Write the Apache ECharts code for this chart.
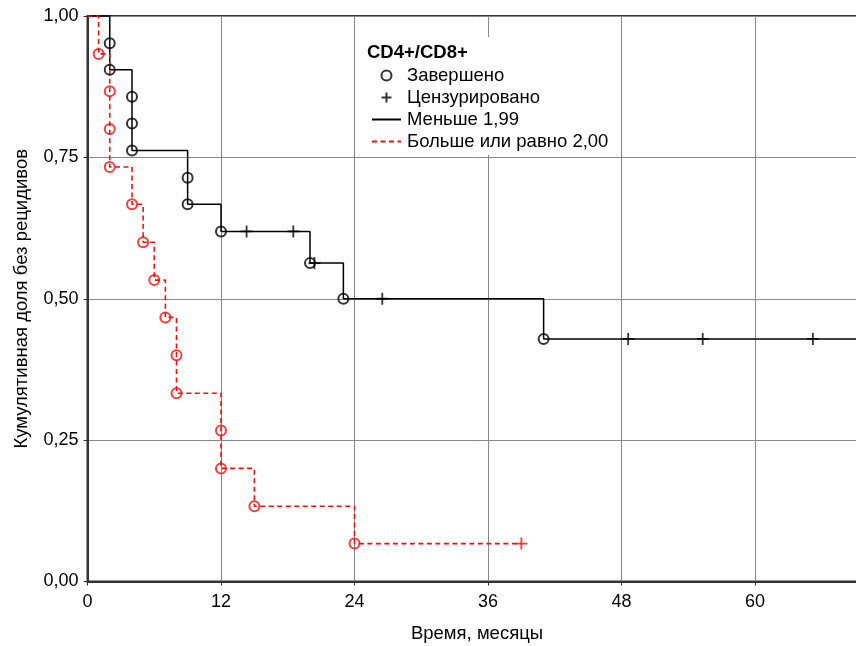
<!DOCTYPE html>
<html><head><meta charset="utf-8">
<script src="https://cdn.jsdelivr.net/npm/echarts@6/dist/echarts.min.js"></script>
<style>html,body{margin:0;padding:0;background:#fff}#c{width:856px;height:646px}</style>
</head><body><div id="c"></div>
<script>
// ---- data ----
const xTicks = [0, 12, 24, 36, 48, 60];
const yTickValues = [0, 0.25, 0.5, 0.75, 1];
const yTickLabels = ['0,00', '0,25', '0,50', '0,75', '1,00'];

// group "Меньше 1,99" (black)
const blackEventTimes = [2, 2, 4, 4, 4, 9, 9, 12, 20, 23, 41];
const blackEventSurv  = [0.952, 0.905, 0.857, 0.810, 0.762, 0.714, 0.667, 0.619, 0.563, 0.500, 0.429];
const blackCensorTimes = [14.3, 18.5, 20.4, 26.5, 48.6, 55.3, 65.2];
const blackCensorSurv  = [0.619, 0.619, 0.563, 0.500, 0.429, 0.429, 0.429];
const blackEndTime = 72;

// group "Больше или равно 2,00" (red)
const redEventTimes = [1, 2, 2, 2, 4, 5, 6, 7, 8, 8, 12, 12, 15, 24];
const redEventSurv  = [0.933, 0.867, 0.800, 0.733, 0.667, 0.600, 0.533, 0.467, 0.400, 0.333, 0.267, 0.200, 0.133, 0.067];
const redCensorTimes = [39];
const redCensorSurv  = [0.067];
const redEndTime = 39;

const seriesNames = ['Меньше 1,99', 'Больше или равно 2,00'];
const markerNames = ['Завершено', 'Цензурировано'];
const legendTitle = 'CD4+/CD8+';

// ---- build ----
function stepLine(times, surv, end) {
  const pts = [[0, 1]];
  let prev = 1;
  for (let i = 0; i < times.length; i++) {
    pts.push([times[i], prev]);
    pts.push([times[i], surv[i]]);
    prev = surv[i];
  }
  pts.push([end, prev]);
  return pts;
}
function zip(a, b) { return a.map((v, i) => [v, b[i]]); }

const BLACK = '#000000';
const RED = '#f01010';
const FONT = 'Liberation Sans, Arial, sans-serif';
const PLUS = 'path://M0,6L12,6M6,0L6,12';
const NOFILL = 'rgba(0,0,0,0)';

const chart = echarts.init(document.getElementById('c'), null, {renderer: 'canvas'});
chart.setOption({
  animation: false,
  backgroundColor: '#fff',
  textStyle: {fontFamily: FONT},
  grid: {left: 87.5, top: 16, right: -32.5, bottom: 64.5, show: true,
         outerBoundsMode: 'none', containLabel: false,
         borderColor: '#333', borderWidth: 2, backgroundColor: 'transparent'},
  xAxis: {
    type: 'value', min: 0, max: 72, interval: 12,
    name: 'Время, месяцы', nameLocation: 'middle', nameGap: 43,
    nameTextStyle: {color: '#000', fontSize: 18.5, fontFamily: FONT, padding: [0, 22, 0, 0]},
    axisLine: {show: true, lineStyle: {color: '#333', width: 2}},
    axisTick: {show: true, length: 4, lineStyle: {color: '#333', width: 1}},
    axisLabel: {color: '#000', fontSize: 18, fontFamily: FONT, margin: 12,
      formatter: v => xTicks.indexOf(v) >= 0 ? String(v) : ''},
    splitLine: {show: true, lineStyle: {color: '#888', width: 1}}
  },
  yAxis: {
    type: 'value', min: 0, max: 1, interval: 0.25,
    name: 'Кумулятивная доля без рецидивов', nameLocation: 'middle', nameGap: 56,
    nameTextStyle: {color: '#000', fontSize: 18.5, fontFamily: FONT},
    axisLine: {show: true, lineStyle: {color: '#333', width: 2}},
    axisTick: {show: true, length: 4, lineStyle: {color: '#333', width: 1}},
    axisLabel: {color: '#000', fontSize: 18, fontFamily: FONT, margin: 9,
      formatter: v => { const i = yTickValues.indexOf(v); return i >= 0 ? yTickLabels[i] : ''; }},
    splitLine: {show: true, lineStyle: {color: '#888', width: 1}}
  },
  legend: {
    orient: 'vertical', left: 360, top: 37,
    padding: [29, 4, 4, 11],
    backgroundColor: '#fff',
    itemWidth: 29, itemHeight: 10, itemGap: 3,
    textStyle: {color: '#000', fontSize: 18.5, fontFamily: FONT, padding: [0, 0, 0, 1]},
    data: [markerNames[0], markerNames[1], seriesNames[0], seriesNames[1]],
    selectedMode: false
  },
  graphic: [{
    type: 'text', left: 367, top: 43, z: 100,
    style: {text: legendTitle, fill: '#000', font: 'bold 18.5px ' + FONT}
  }],
  series: [
    {name: seriesNames[0], type: 'line', data: stepLine(blackEventTimes, blackEventSurv, blackEndTime),
     symbol: 'none', lineStyle: {color: BLACK, width: 1.5},
     itemStyle: {color: NOFILL, borderWidth: 0, borderColor: NOFILL}, z: 3},
    {name: seriesNames[1], type: 'line', data: stepLine(redEventTimes, redEventSurv, redEndTime),
     symbol: 'none', lineStyle: {color: RED, width: 1.6, type: [5, 3.5]},
     itemStyle: {color: NOFILL, borderWidth: 0, borderColor: NOFILL}, z: 3},
    {name: markerNames[0], type: 'scatter', data: zip(blackEventTimes, blackEventSurv),
     symbol: 'circle', symbolSize: 10,
     itemStyle: {color: NOFILL, borderColor: BLACK, borderWidth: 2}, z: 4},
    {name: markerNames[0], type: 'scatter', data: zip(redEventTimes, redEventSurv),
     symbol: 'circle', symbolSize: 10,
     itemStyle: {color: NOFILL, borderColor: RED, borderWidth: 2}, z: 4},
    {name: markerNames[1], type: 'scatter', data: zip(blackCensorTimes, blackCensorSurv),
     symbol: PLUS, symbolSize: 12,
     itemStyle: {color: NOFILL, borderColor: BLACK, borderWidth: 1.8}, z: 4},
    {name: markerNames[1], type: 'scatter', data: zip(redCensorTimes, redCensorSurv),
     symbol: PLUS, symbolSize: 12,
     itemStyle: {color: NOFILL, borderColor: RED, borderWidth: 1.8}, z: 4}
  ]
});
</script></body></html>
